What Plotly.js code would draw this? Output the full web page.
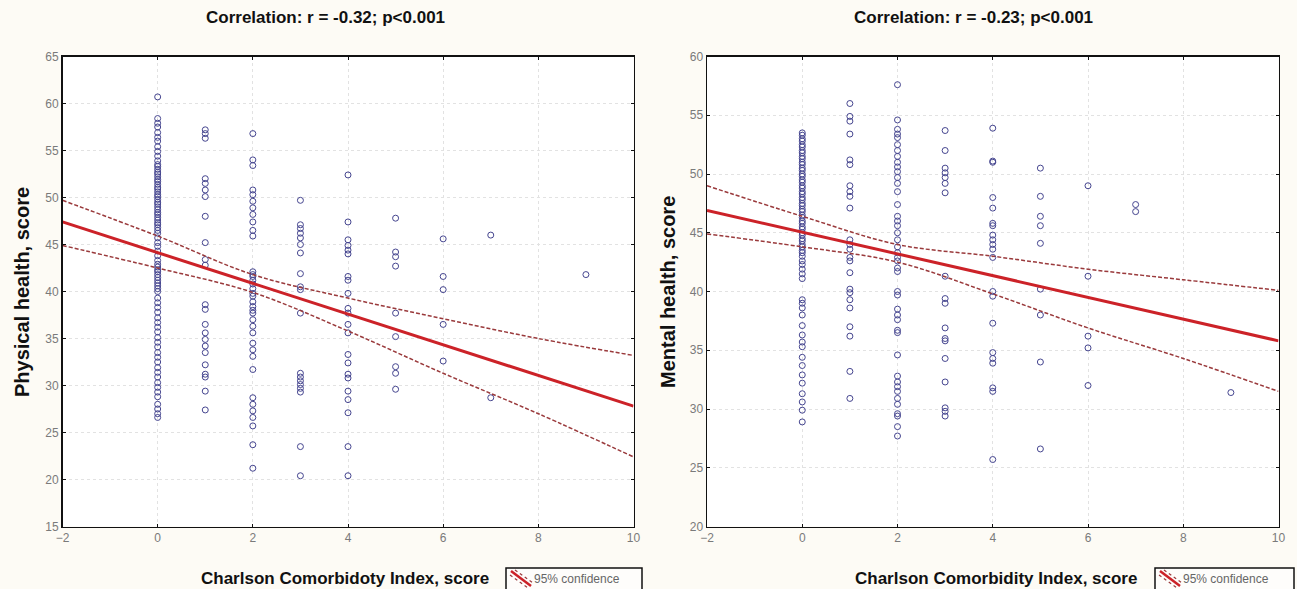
<!DOCTYPE html>
<html>
<head>
<meta charset="utf-8">
<script src="https://cdn.plot.ly/plotly-3.0.1.min.js"></script>
<style>
  html, body { margin: 0; padding: 0; background: #fdfbf5; }
  #chart { width: 1297px; height: 589px; }
</style>
</head>
<body>
<div id="chart"></div>
<script>
// ---------- DATA ----------
// Left panel: Physical health vs Charlson Comorbidity Index
const physCci0 = [60.7, 58.4, 57.9, 57.5, 56.9, 56.4, 56.0, 55.4, 54.9, 54.4, 53.9,
  53.5, 53.3, 53.0, 52.7, 52.5, 52.2, 51.9, 51.7, 51.4, 51.1, 50.9, 50.6, 50.3, 50.1, 49.8, 49.5, 49.3, 49.0,
  48.7, 48.4, 48.2, 47.9, 47.6, 47.3, 47.1, 46.8, 46.5, 46.2,
  45.7, 45.2, 44.8, 44.3, 43.8, 43.3,
  42.9, 42.6, 42.3, 42.1, 41.8, 41.5, 41.2, 40.9, 40.6, 40.3, 40.0,
  39.3, 38.8, 38.3, 37.8, 37.2, 36.7, 36.2, 35.7, 35.1, 34.6, 34.1, 33.5, 33.0, 32.5, 31.9, 31.4, 30.9, 30.3, 29.8, 29.3, 28.8,
  28.0, 27.5, 27.0, 26.6];
const physCci1 = [57.2, 56.8, 56.3, 52.0, 51.5, 50.8, 50.1, 48.0, 45.2, 43.4, 42.8, 38.6, 38.1, 36.5, 35.6, 34.9, 34.2, 33.5, 32.2, 31.2, 30.9, 29.4, 27.4];
const physCci2 = [56.8, 54.0, 53.4, 50.8, 50.3, 49.6, 48.9, 48.2, 47.4, 46.5, 45.9, 42.1, 41.8, 41.6, 41.2, 40.8, 40.3, 39.8, 39.5, 38.9, 38.4, 38.0, 37.7, 37.0, 36.3, 35.6, 34.5, 33.8, 33.1, 31.7, 28.7, 28.0, 27.3, 26.6, 25.7, 23.7, 21.2];
const physCci3 = [49.7, 47.1, 46.7, 46.2, 45.7, 45.0, 44.1, 41.9, 40.5, 40.2, 37.7, 31.3, 30.9, 30.5, 30.1, 29.7, 29.3, 23.5, 20.4];
const physCci4 = [52.4, 47.4, 45.5, 44.9, 44.4, 44.0, 41.6, 41.2, 39.8, 38.2, 37.7, 36.5, 35.6, 33.3, 32.4, 31.2, 30.8, 29.4, 28.5, 27.1, 23.5, 20.4];
const physCci5 = [47.8, 44.2, 43.7, 42.7, 37.7, 35.2, 32.0, 31.3, 29.6];
const physCci6 = [45.6, 41.6, 40.2, 36.5, 32.6];
const physCci7 = [46.0, 28.7];
const physCci9 = [41.8];

// Right panel: Mental health vs Charlson Comorbidity Index
const mentCci0 = [53.5, 53.3, 53.0, 52.8, 52.5, 52.3, 52.0, 51.8, 51.5, 51.3, 51.0, 50.8, 50.5, 50.3, 50.0, 49.8,
  49.5, 49.3, 49.0, 48.8, 48.5, 48.3, 48.0, 47.8, 47.5, 47.3, 47.0, 46.8, 46.5, 46.3, 46.0, 45.8, 45.5, 45.3,
  45.0, 44.8, 44.5, 44.3, 44.0, 43.8, 43.5, 43.3, 43.0, 42.6, 42.3, 41.9, 41.5, 41.1,
  39.3, 39.0, 38.6, 38.0, 37.1, 36.3, 35.7, 35.3, 34.4, 33.7, 32.9, 32.2, 31.3, 30.6, 29.9, 28.9];
const mentCci1 = [56.0, 54.9, 54.5, 53.4, 51.2, 50.8, 49.0, 48.5, 48.1, 47.1, 44.4, 44.0, 43.6, 42.9, 42.6, 41.6, 40.2, 39.9, 39.3, 38.6, 37.0, 36.2, 33.2, 30.9];
const mentCci2 = [57.6, 54.6, 53.8, 53.4, 53.1, 52.5, 52.0, 51.5, 51.0, 50.6, 50.2, 49.7, 49.2, 48.5, 47.4, 46.4, 46.0, 45.6, 45.0, 44.4, 43.8, 43.3, 42.9, 42.6, 42.0, 41.7, 40.0, 39.7, 38.5, 38.0, 37.6, 36.7, 36.5, 34.6, 32.8, 32.3, 31.9, 31.5, 30.9, 30.4, 29.6, 29.4, 28.5, 27.7];
const mentCci3 = [53.7, 52.0, 50.5, 50.1, 49.7, 49.2, 48.4, 41.3, 39.4, 39.0, 36.9, 36.0, 35.8, 34.3, 32.3, 30.1, 29.8, 29.4];
const mentCci4 = [53.9, 51.1, 51.0, 48.0, 47.1, 45.8, 45.6, 44.8, 44.4, 44.0, 43.6, 42.9, 40.0, 39.6, 37.3, 34.8, 34.3, 33.9, 31.8, 31.5, 25.7];
const mentCci5 = [50.5, 48.1, 46.4, 45.6, 44.1, 40.2, 38.0, 34.0, 26.6];
const mentCci6 = [49.0, 41.3, 36.2, 35.2, 32.0];
const mentCci7 = [47.4, 46.8];
const mentCci9 = [31.4];

// Regression lines and 95% confidence bands
const fitX = [-2, 10];
const physFit = [47.4, 27.8];
const mentFit = [46.9, 35.8];
const ciX = [-2, 0, 2, 4, 6, 8, 10];
const physUpper = [49.7, 45.9, 41.8, 39.3, 37.1, 35.0, 33.2];
const physLower = [44.9, 42.5, 39.9, 35.8, 31.3, 27.0, 22.4];
const mentUpper = [49.0, 46.4, 44.0, 43.0, 41.9, 41.0, 40.1];
const mentLower = [44.9, 43.8, 42.5, 39.8, 36.9, 34.3, 31.5];

// Text
const titleLeft = 'Correlation: r = -0.32; p<0.001';
const titleRight = 'Correlation: r = -0.23; p<0.001';
const yTitleLeft = 'Physical health, score';
const yTitleRight = 'Mental health, score';
const xTitleLeft = 'Charlson Comorbidoty Index, score';
const xTitleRight = 'Charlson Comorbidity Index, score';
const legendText = '95% confidence';

// ---------- BUILD ----------
function stack(cols) {
  const xs = [], ys = [];
  cols.forEach(([cx, vals]) => vals.forEach(v => { xs.push(cx); ys.push(v); }));
  return {x: xs, y: ys};
}
const phys = stack([[0, physCci0], [1, physCci1], [2, physCci2], [3, physCci3], [4, physCci4], [5, physCci5], [6, physCci6], [7, physCci7], [9, physCci9]]);
const ment = stack([[0, mentCci0], [1, mentCci1], [2, mentCci2], [3, mentCci3], [4, mentCci4], [5, mentCci5], [6, mentCci6], [7, mentCci7], [9, mentCci9]]);

const W = 1297, H = 589;
const px = v => v / W;
const py = v => 1 - v / H;

const FONT = '"Liberation Sans", Arial, sans-serif';
const markerStyle = {symbol: 'circle-open', size: 6, color: '#45458f', line: {width: 1, color: '#45458f'}};
const fitStyle = {color: '#cc2228', width: 3};
const ciStyle = {color: '#9a3a3c', width: 1.5, dash: '4px,2px', shape: 'spline'};

const traces = [
  {x: phys.x, y: phys.y, type: 'scatter', mode: 'markers', marker: markerStyle, xaxis: 'x', yaxis: 'y', hoverinfo: 'x+y'},
  {x: ciX, y: physUpper, type: 'scatter', mode: 'lines', line: ciStyle, xaxis: 'x', yaxis: 'y'},
  {x: ciX, y: physLower, type: 'scatter', mode: 'lines', line: ciStyle, xaxis: 'x', yaxis: 'y'},
  {x: fitX, y: physFit, type: 'scatter', mode: 'lines', line: fitStyle, xaxis: 'x', yaxis: 'y'},
  {x: ment.x, y: ment.y, type: 'scatter', mode: 'markers', marker: markerStyle, xaxis: 'x2', yaxis: 'y2', hoverinfo: 'x+y'},
  {x: ciX, y: mentUpper, type: 'scatter', mode: 'lines', line: ciStyle, xaxis: 'x2', yaxis: 'y2'},
  {x: ciX, y: mentLower, type: 'scatter', mode: 'lines', line: ciStyle, xaxis: 'x2', yaxis: 'y2'},
  {x: fitX, y: mentFit, type: 'scatter', mode: 'lines', line: fitStyle, xaxis: 'x2', yaxis: 'y2'}
];

const tickFont = {family: FONT, size: 12, color: '#7a7a7a'};
function xAxis(domain, anchor) {
  return {
    domain: domain, anchor: anchor, range: [-2, 10], tickvals: [-2, 0, 2, 4, 6, 8, 10],
    showgrid: true, gridcolor: '#e2e2e2', griddash: 'dot', gridwidth: 1,
    zeroline: false, showline: true, linecolor: '#111111', linewidth: 1.5, mirror: 'ticks',
    ticks: 'inside', ticklen: 3, tickcolor: '#111111', tickfont: tickFont, fixedrange: true
  };
}
function yAxis(range, dtick, anchor) {
  return {
    domain: [py(526.5), py(56.5)], anchor: anchor, range: range, dtick: dtick, tick0: 0,
    showgrid: true, gridcolor: '#e2e2e2', griddash: 'dot', gridwidth: 1,
    zeroline: false, showline: true, linecolor: '#111111', linewidth: 1.5, mirror: 'ticks',
    ticks: 'inside', ticklen: 3, tickcolor: '#111111', tickfont: tickFont, fixedrange: true
  };
}

const titleFont = {family: FONT, size: 17, color: '#111111'};
const xTitleFont = {family: FONT, size: 17, color: '#111111'};
const yTitleFont = {family: FONT, size: 20, color: '#111111'};

const annotations = [
  {text: '<b>' + titleLeft + '</b>', x: px(325), y: py(18), xref: 'paper', yref: 'paper', showarrow: false, font: titleFont, xanchor: 'center', yanchor: 'middle'},
  {text: '<b>' + titleRight + '</b>', x: px(973), y: py(18), xref: 'paper', yref: 'paper', showarrow: false, font: titleFont, xanchor: 'center', yanchor: 'middle'},
  {text: '<b>' + yTitleLeft + '</b>', x: px(22), y: py(292), xref: 'paper', yref: 'paper', showarrow: false, font: yTitleFont, textangle: -90, xanchor: 'center', yanchor: 'middle'},
  {text: '<b>' + yTitleRight + '</b>', x: px(668), y: py(292), xref: 'paper', yref: 'paper', showarrow: false, font: yTitleFont, textangle: -90, xanchor: 'center', yanchor: 'middle'},
  {text: '<b>' + xTitleLeft + '</b>', x: px(345), y: py(578), xref: 'paper', yref: 'paper', showarrow: false, font: xTitleFont, xanchor: 'center', yanchor: 'middle'},
  {text: '<b>' + xTitleRight + '</b>', x: px(996), y: py(578), xref: 'paper', yref: 'paper', showarrow: false, font: xTitleFont, xanchor: 'center', yanchor: 'middle'},
  {text: legendText, x: px(532), y: py(579), xref: 'paper', yref: 'paper', showarrow: false, font: {family: FONT, size: 12, color: '#666666'}, xanchor: 'left', yanchor: 'middle'},
  {text: legendText, x: px(1181), y: py(579), xref: 'paper', yref: 'paper', showarrow: false, font: {family: FONT, size: 12, color: '#666666'}, xanchor: 'left', yanchor: 'middle'}
];

function legendBox(x0, x1) {
  return [
    {type: 'rect', xref: 'paper', yref: 'paper', x0: px(x0), x1: px(x1), y0: py(595), y1: py(568), line: {color: '#111111', width: 1.5}, fillcolor: 'rgba(255,255,255,0.6)'},
    {type: 'line', xref: 'paper', yref: 'paper', x0: px(x0 + 5), y0: py(571), x1: px(x0 + 25), y1: py(586), line: {color: '#cc2228', width: 2.5}},
    {type: 'line', xref: 'paper', yref: 'paper', x0: px(x0 + 9), y0: py(570), x1: px(x0 + 27), y1: py(583), line: {color: '#9a3a3c', width: 1.2, dash: 'dot'}},
    {type: 'line', xref: 'paper', yref: 'paper', x0: px(x0 + 4), y0: py(575), x1: px(x0 + 22), y1: py(588), line: {color: '#9a3a3c', width: 1.2, dash: 'dot'}}
  ];
}

const layout = {
  width: W, height: H,
  margin: {l: 0, r: 0, t: 0, b: 0, pad: 0},
  paper_bgcolor: '#fdfbf5',
  plot_bgcolor: '#ffffff',
  showlegend: false,
  font: {family: FONT},
  xaxis: xAxis([px(62.5), px(633.5)], 'y'),
  yaxis: yAxis([15, 65], 5, 'x'),
  xaxis2: xAxis([px(707), px(1278.5)], 'y2'),
  yaxis2: yAxis([20, 60], 5, 'x2'),
  annotations: annotations,
  shapes: legendBox(506, 642).concat(legendBox(1155, 1294))
};

Plotly.newPlot('chart', traces, layout, {displayModeBar: false, staticPlot: true});
</script>
</body>
</html>
